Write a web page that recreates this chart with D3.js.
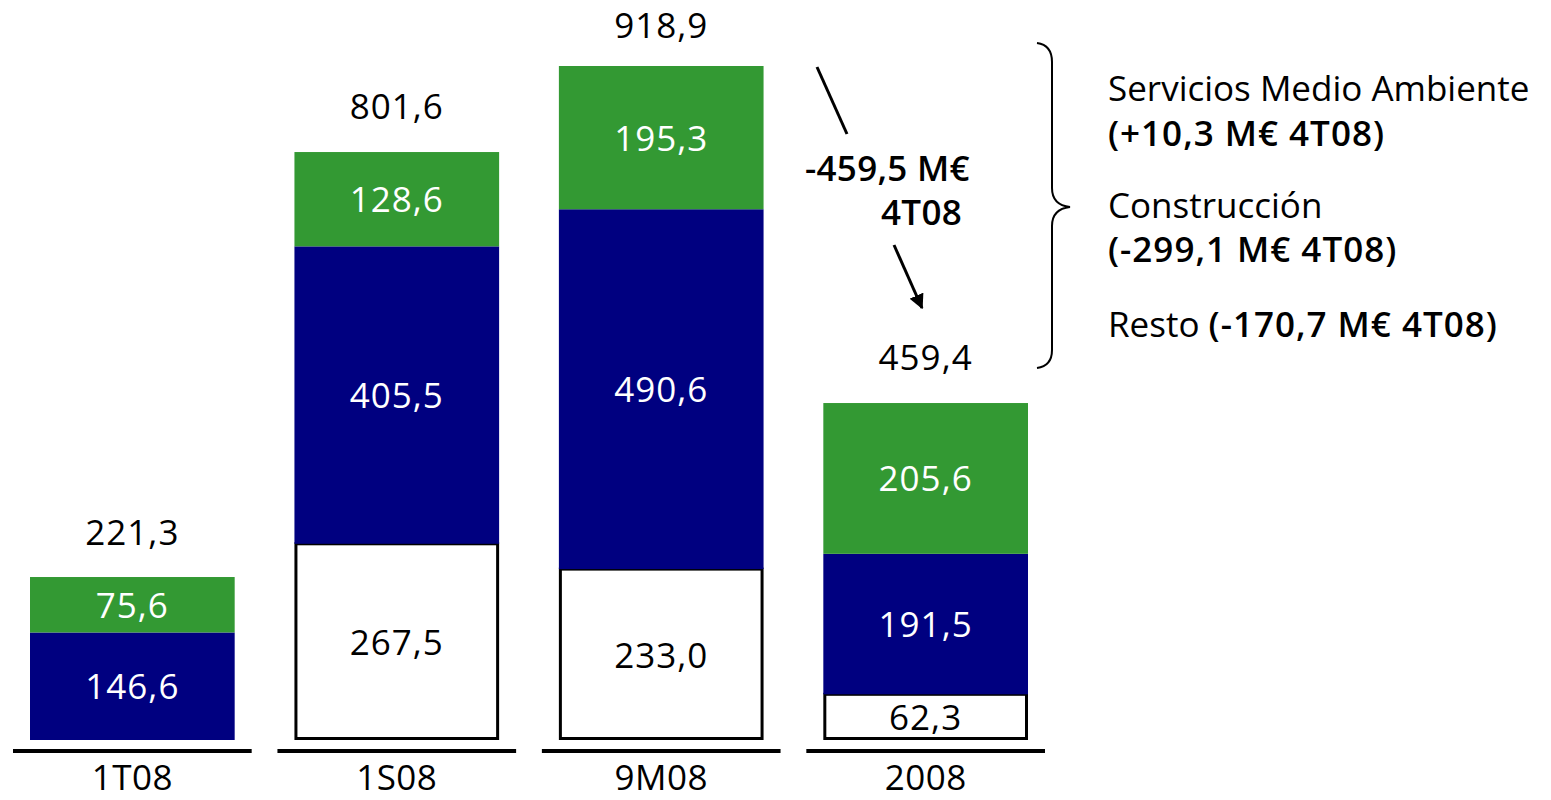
<!DOCTYPE html>
<html>
<head>
<meta charset="utf-8">
<script src="https://cdn.jsdelivr.net/npm/d3@7"></script>
<style>
  body { margin: 0; background: #fff; }
  text { font-family: "Open Sans", sans-serif; }
</style>
</head>
<body>
<div id="chart"></div>
<script>
var svgWidth = 1551;
var svgHeight = 800;

// Data
var categories = ["1T08", "1S08", "9M08", "2008"];
var resto = [0, 267.5, 233.0, 62.3];
var construccion = [146.6, 405.5, 490.6, 191.5];
var servicios = [75.6, 128.6, 195.3, 205.6];
var totals = [221.3, 801.6, 918.9, 459.4];
var legendLines = [
  ["Servicios Medio Ambiente", ""],
  ["", "(+10,3 M€ 4T08)"],
  ["Construcción", ""],
  ["", "(-299,1 M€ 4T08)"],
  ["Resto ", "(-170,7 M€ 4T08)"]
];

var fmt = function(v) { return v.toFixed(1).replace(".", ","); };

var svg = d3.select("#chart")
  .append("svg")
  .attr("width", svgWidth)
  .attr("height", svgHeight);

var x = d3.scaleBand()
  .domain(categories)
  .range([30, 1028])
  .paddingInner(0.226)
  .paddingOuter(0);

var y = d3.scaleLinear()
  .domain([0, 918.9])
  .range([740, 66]);

// stack the three series
var rows = categories.map(function(c, i) {
  return { cat: c, resto: resto[i], construccion: construccion[i], servicios: servicios[i] };
});
var keys = ["resto", "construccion", "servicios"];
var fills = { resto: "#ffffff", construccion: "#000080", servicios: "#339933" };
var textFill = { resto: "#000", construccion: "#fff", servicios: "#fff" };
var series = d3.stack().keys(keys)(rows);

var groups = svg.selectAll("g.series")
  .data(series)
  .enter()
  .append("g")
  .attr("class", "series");

groups.selectAll("rect")
  .data(function(s) { return s.map(function(d) { d.key = s.key; return d; }); })
  .enter()
  .filter(function(d) { return d[1] - d[0] > 0; })
  .append("rect")
  .attr("x", function(d) { return x(d.data.cat) + (d.key == "resto" ? 1.5 : 0); })
  .attr("width", function(d) { return x.bandwidth() - (d.key == "resto" ? 3 : 0); })
  .attr("y", function(d) { return y(d[1]); })
  .attr("height", function(d) { return y(d[0]) - y(d[1]) - (d.key == "resto" ? 1.5 : 0); })
  .attr("fill", function(d) { return fills[d.key]; })
  .attr("stroke", function(d) { return d.key == "resto" ? "#000" : "none"; })
  .attr("stroke-width", 3);

groups.selectAll("text")
  .data(function(s) { return s; })
  .enter()
  .filter(function(d) { return d[1] - d[0] > 0; })
  .append("text")
  .attr("x", function(d) { return x(d.data.cat) + x.bandwidth() / 2; })
  .attr("y", function(d) { return (y(d[0]) + y(d[1])) / 2 + 13; })
  .attr("text-anchor", "middle")
  .attr("font-size", "35px")
  .attr("letter-spacing", "1px")
  .attr("fill", function(d) { return textFill[d.key]; })
  .text(function(d) { return fmt(d[1] - d[0]); });

// totals (kept inside the top edge)
svg.selectAll("text.total")
  .data(categories)
  .enter()
  .append("text")
  .attr("class", "total")
  .attr("x", function(d) { return x(d) + x.bandwidth() / 2; })
  .attr("y", function(d, i) { return Math.max(y(totals[i]) - 33, 38); })
  .attr("text-anchor", "middle")
  .attr("font-size", "35px")
  .attr("letter-spacing", "1px")
  .text(function(d, i) { return fmt(totals[i]); });

// base lines and category labels
svg.selectAll("line.base")
  .data(categories)
  .enter()
  .append("line")
  .attr("x1", function(d) { return x(d) - 17; })
  .attr("x2", function(d) { return x(d) + x.bandwidth() + 17; })
  .attr("y1", 751)
  .attr("y2", 751)
  .attr("stroke", "#000")
  .attr("stroke-width", 4);

svg.selectAll("text.cat")
  .data(categories)
  .enter()
  .append("text")
  .attr("class", "cat")
  .attr("x", function(d) { return x(d) + x.bandwidth() / 2; })
  .attr("y", 790)
  .attr("text-anchor", "middle")
  .attr("font-size", "35px")
  .attr("letter-spacing", "0.5px")
  .text(function(d) { return d; });

// annotation: drop between 9M08 and 2008
svg.append("defs").append("marker")
  .attr("id", "arrow")
  .attr("viewBox", "0 0 10 10")
  .attr("refX", 9).attr("refY", 5)
  .attr("markerWidth", 5).attr("markerHeight", 5)
  .attr("orient", "auto")
  .append("path")
  .attr("d", "M0,0 L10,5 L0,10 z")
  .attr("fill", "#000");

svg.append("line")
  .attr("x1", 817).attr("y1", 67).attr("x2", 847).attr("y2", 134)
  .attr("stroke", "#000").attr("stroke-width", 3);

svg.append("line")
  .attr("x1", 894).attr("y1", 245).attr("x2", 922).attr("y2", 308)
  .attr("stroke", "#000").attr("stroke-width", 3)
  .attr("marker-end", "url(#arrow)");

svg.append("text")
  .attr("x", 805).attr("y", 181)
  .attr("font-size", "35px").attr("font-weight", 600)
  .attr("letter-spacing", "0.3px")
  .text("-459,5 M€");

svg.append("text")
  .attr("x", 881).attr("y", 225)
  .attr("font-size", "35px").attr("font-weight", 600)
  .attr("letter-spacing", "0.3px")
  .text("4T08");

// brace
svg.append("path")
  .attr("d", "M1037,43 Q1052,45 1052,62 L1052,188 Q1052,205 1070,207 Q1052,209 1052,226 L1052,350 Q1052,366 1037,368")
  .attr("fill", "none")
  .attr("stroke", "#000")
  .attr("stroke-width", 2);

// legend notes
var legendY = [101, 146, 218, 262, 337];
var legend = svg.selectAll("text.legend")
  .data(legendLines)
  .enter()
  .append("text")
  .attr("class", "legend")
  .attr("x", 1108)
  .attr("y", function(d, i) { return legendY[i]; })
  .attr("font-size", "35px");

legend.append("tspan").text(function(d) { return d[0]; });
legend.append("tspan")
  .attr("font-weight", 600)
  .attr("letter-spacing", "1px")
  .text(function(d) { return d[1]; });
</script>
</body>
</html>
